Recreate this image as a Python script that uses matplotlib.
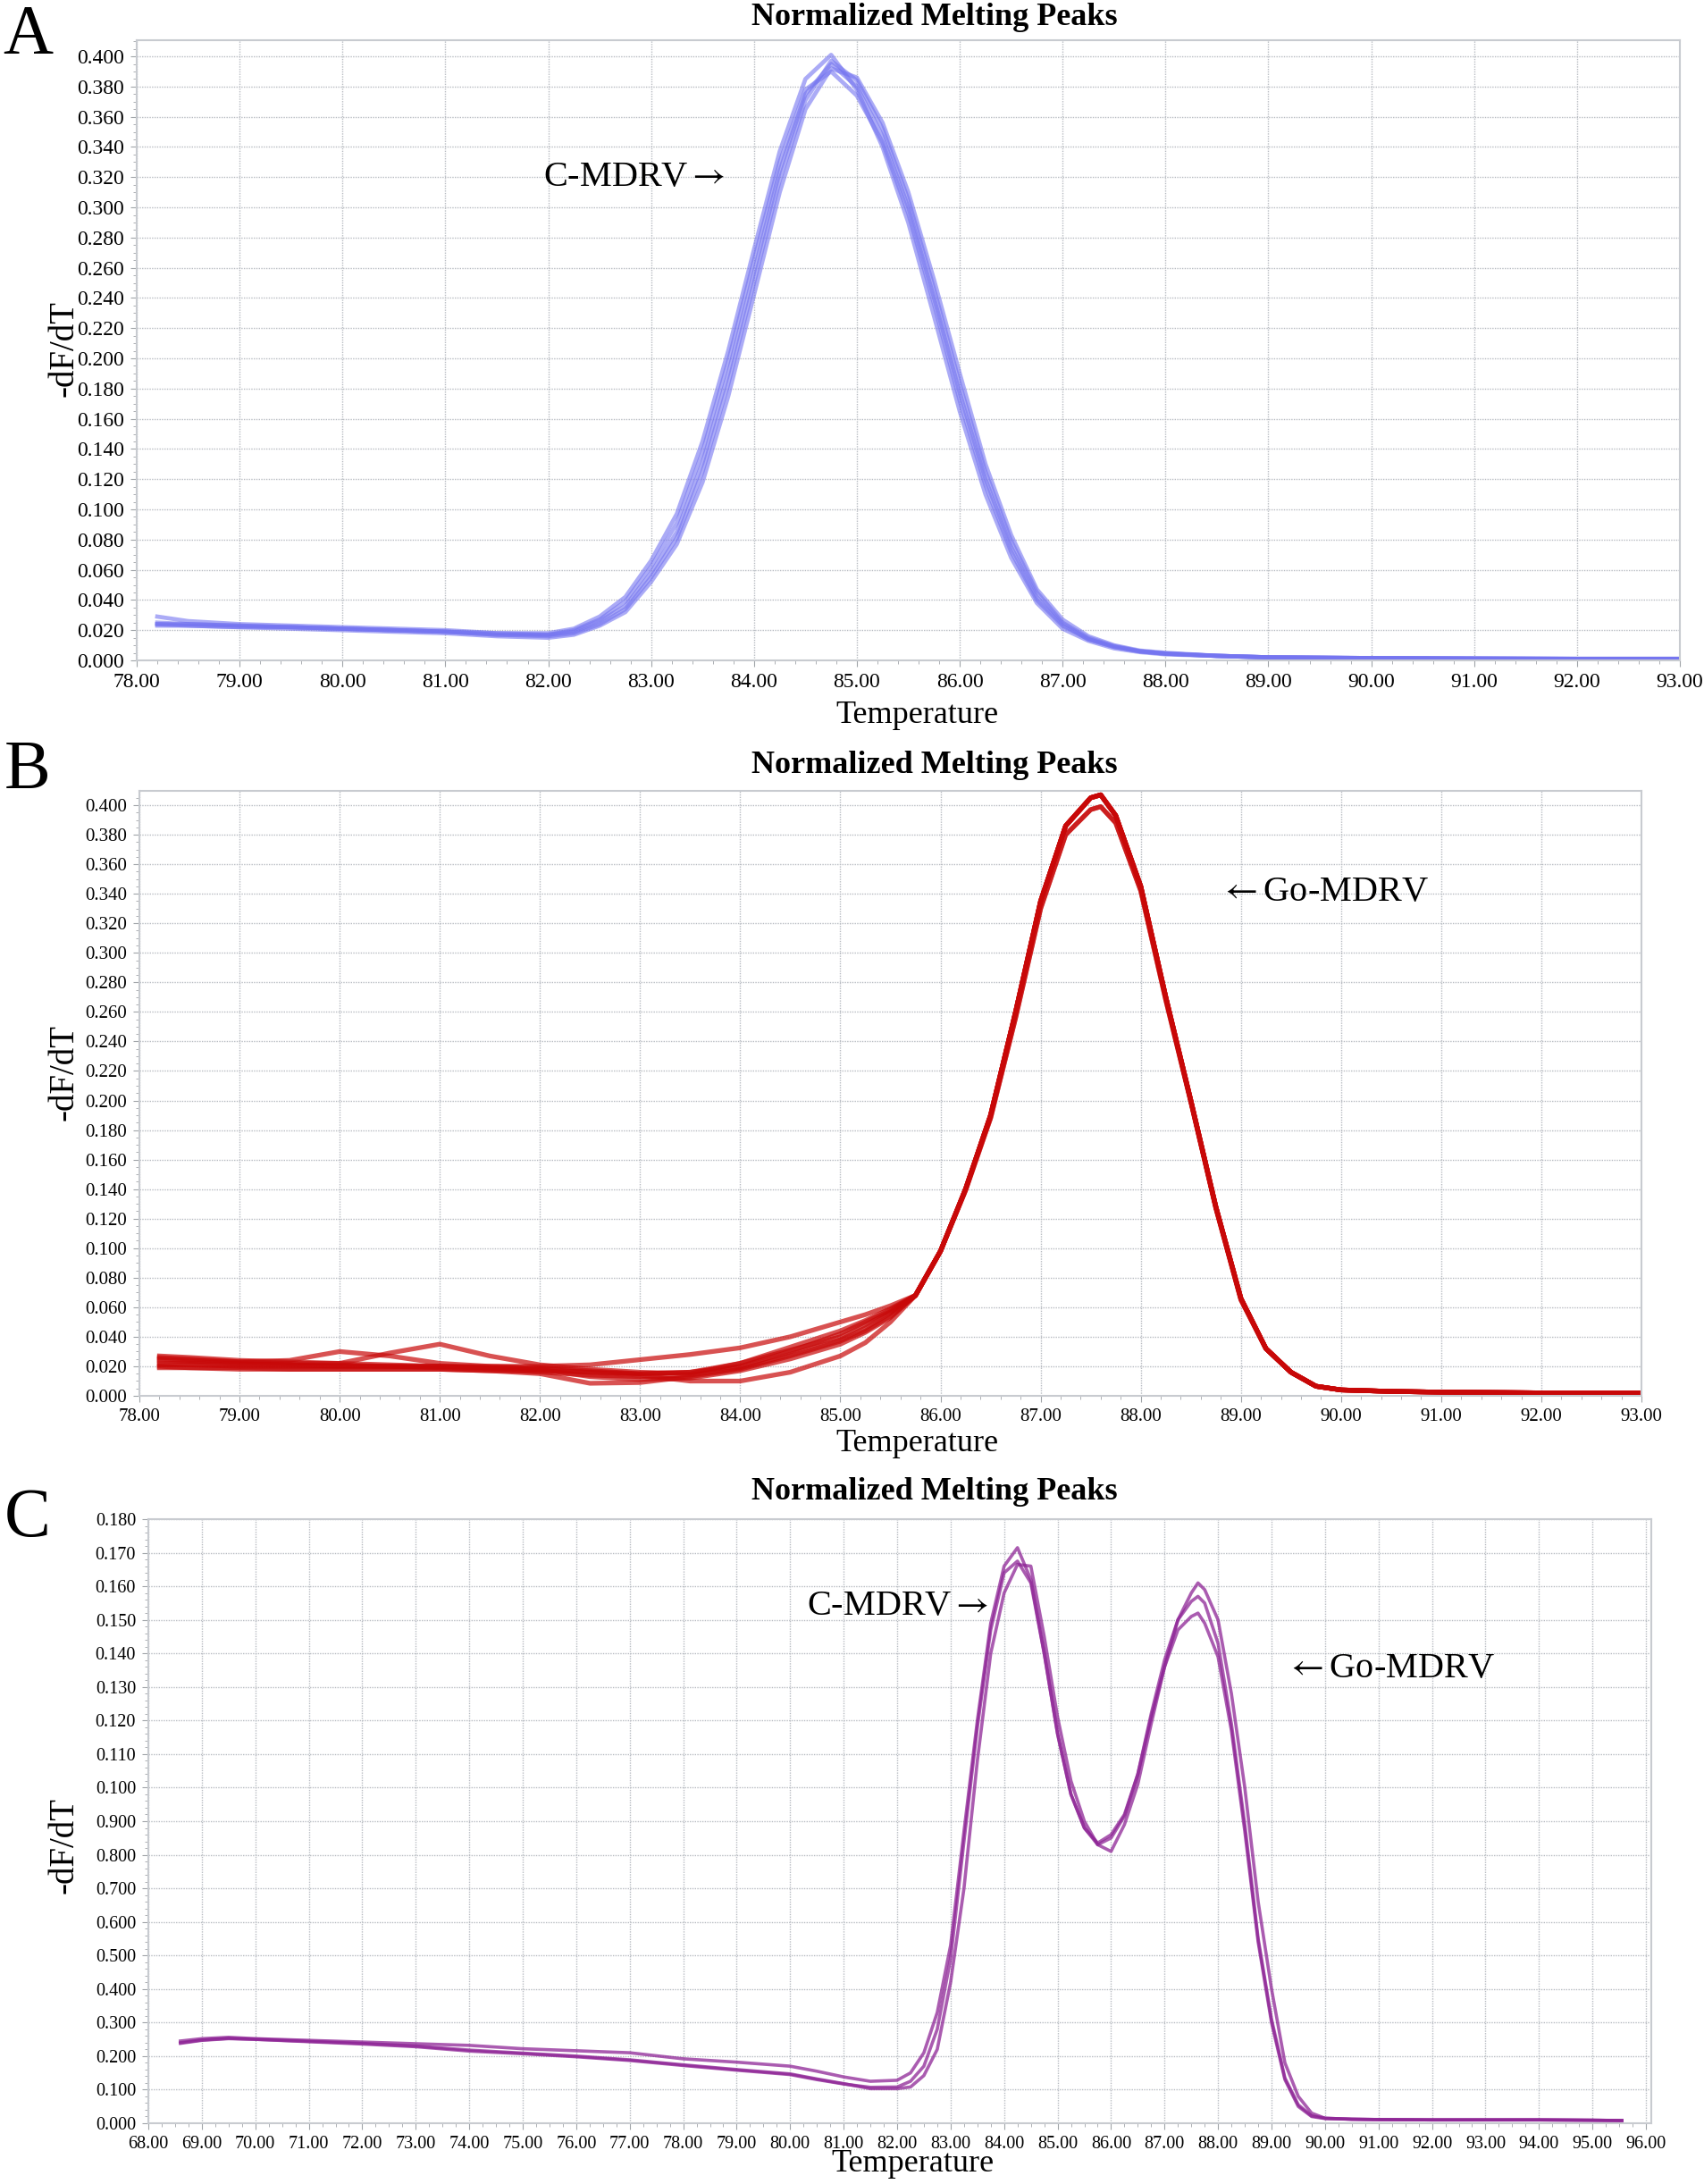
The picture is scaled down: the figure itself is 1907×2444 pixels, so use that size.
import matplotlib
matplotlib.use("Agg")
import matplotlib.pyplot as plt
from matplotlib.ticker import MultipleLocator, FixedLocator, FixedFormatter
import numpy as np

plt.rcParams['font.family'] = ['Liberation Serif', 'DejaVu Serif']
plt.rcParams['mathtext.fontset'] = 'stix'

# ---------------- panel A : C-MDRV ----------------
a_temp = [78.2, 78.5, 79.0, 79.5, 80.0, 80.5, 81.0, 81.5, 82.0, 82.25, 82.5, 82.75,
          83.0, 83.25, 83.5, 83.75, 84.0, 84.25, 84.5, 84.75, 85.0, 85.25, 85.5, 85.75,
          86.0, 86.25, 86.5, 86.75, 87.0, 87.25, 87.5, 87.75, 88.0, 88.5, 89.0, 90.0,
          91.0, 92.0, 93.0]
a_run1 = [0.025, 0.024, 0.023, 0.022, 0.021, 0.020, 0.019, 0.017, 0.017, 0.019, 0.026, 0.036,
          0.058, 0.085, 0.131, 0.190, 0.257, 0.324, 0.375, 0.395, 0.380, 0.347, 0.300, 0.240,
          0.177, 0.120, 0.075, 0.042, 0.024, 0.014, 0.009, 0.006, 0.0045, 0.003, 0.002, 0.0015,
          0.0012, 0.001, 0.001]
a_run2 = [0.024, 0.024, 0.023, 0.022, 0.021, 0.020, 0.019, 0.018, 0.018, 0.021, 0.029, 0.042,
          0.066, 0.097, 0.145, 0.205, 0.272, 0.337, 0.385, 0.401, 0.378, 0.340, 0.290, 0.228,
          0.165, 0.110, 0.068, 0.038, 0.021, 0.013, 0.008, 0.0055, 0.004, 0.003, 0.002, 0.0015,
          0.0012, 0.001, 0.001]
a_run3 = [0.023, 0.023, 0.022, 0.021, 0.020, 0.019, 0.018, 0.016, 0.015, 0.017, 0.023, 0.032,
          0.052, 0.077, 0.118, 0.175, 0.242, 0.310, 0.365, 0.392, 0.386, 0.356, 0.310, 0.252,
          0.190, 0.130, 0.083, 0.047, 0.027, 0.016, 0.010, 0.0065, 0.005, 0.003, 0.002, 0.0015,
          0.0012, 0.001, 0.001]
a_run4 = [0.029, 0.026, 0.024, 0.023, 0.022, 0.021, 0.020, 0.018, 0.017, 0.020, 0.027, 0.039,
          0.062, 0.091, 0.138, 0.198, 0.265, 0.330, 0.378, 0.390, 0.374, 0.343, 0.296, 0.236,
          0.172, 0.116, 0.072, 0.040, 0.023, 0.014, 0.009, 0.006, 0.0045, 0.003, 0.002, 0.0015,
          0.0012, 0.001, 0.001]
a_run5 = [0.024, 0.023, 0.022, 0.022, 0.021, 0.020, 0.019, 0.017, 0.016, 0.018, 0.024, 0.034,
          0.055, 0.081, 0.125, 0.183, 0.250, 0.318, 0.371, 0.397, 0.384, 0.352, 0.305, 0.246,
          0.183, 0.125, 0.079, 0.045, 0.025, 0.015, 0.0095, 0.006, 0.0045, 0.003, 0.002, 0.0015,
          0.0012, 0.001, 0.001]
a_runs = [a_run1, a_run2, a_run3, a_run4, a_run5]

# ---------------- panel B : Go-MDRV ----------------
b_temp_low = [78.2, 78.5, 79.0, 79.5, 80.0, 80.5, 81.0, 81.5, 82.0, 82.5, 83.0, 83.5,
              84.0, 84.5, 85.0, 85.25, 85.5]
b_low1 = [0.025, 0.024, 0.023, 0.024, 0.030, 0.027, 0.022, 0.020, 0.019, 0.017, 0.015, 0.016, 0.020, 0.030, 0.042, 0.050, 0.058]
b_low2 = [0.026, 0.025, 0.023, 0.022, 0.022, 0.029, 0.035, 0.027, 0.021, 0.018, 0.016, 0.015, 0.022, 0.031, 0.040, 0.048, 0.057]
b_low3 = [0.021, 0.021, 0.020, 0.020, 0.020, 0.020, 0.020, 0.020, 0.020, 0.021, 0.0245, 0.028, 0.0325, 0.040, 0.050, 0.055, 0.061]
b_low4 = [0.020, 0.019, 0.019, 0.018, 0.018, 0.018, 0.018, 0.017, 0.015, 0.0085, 0.009, 0.013, 0.018, 0.027, 0.037, 0.044, 0.054]
b_low5 = [0.019, 0.019, 0.018, 0.018, 0.018, 0.018, 0.018, 0.017, 0.017, 0.016, 0.014, 0.010, 0.010, 0.016, 0.027, 0.036, 0.050]
b_low6 = [0.024, 0.023, 0.022, 0.021, 0.020, 0.020, 0.019, 0.018, 0.016, 0.014, 0.013, 0.014, 0.019, 0.028, 0.038, 0.046, 0.056]
b_low7 = [0.027, 0.026, 0.024, 0.023, 0.022, 0.021, 0.020, 0.019, 0.018, 0.016, 0.015, 0.016, 0.022, 0.033, 0.044, 0.051, 0.059]
b_low8 = [0.022, 0.022, 0.021, 0.021, 0.021, 0.020, 0.020, 0.019, 0.018, 0.013, 0.011, 0.012, 0.017, 0.025, 0.035, 0.043, 0.053]
b_lows = [b_low1, b_low2, b_low3, b_low4, b_low5, b_low6, b_low7, b_low8]

b_temp_peak = [85.75, 86.0, 86.25, 86.5, 86.75, 87.0, 87.25, 87.5, 87.6, 87.75, 88.0, 88.25,
               88.5, 88.75, 89.0, 89.25, 89.5, 89.75, 90.0, 90.5, 91.0, 92.0, 93.0]
b_peak_hi = [0.068, 0.098, 0.140, 0.190, 0.260, 0.335, 0.386, 0.405, 0.407, 0.393, 0.345, 0.270,
             0.200, 0.128, 0.066, 0.032, 0.016, 0.0065, 0.004, 0.003, 0.0025, 0.002, 0.0018]
b_peak_lo = [0.068, 0.098, 0.139, 0.188, 0.256, 0.330, 0.380, 0.397, 0.399, 0.388, 0.342, 0.268,
             0.199, 0.127, 0.065, 0.032, 0.016, 0.0065, 0.004, 0.003, 0.0025, 0.002, 0.0018]
b_peak_pick = [0, 0, 0, 1, 0, 0, 1, 0]

# ---------------- panel C : mixed sample ----------------
c_temp = [68.6, 69.0, 69.5, 70.0, 71.0, 72.0, 73.0, 74.0, 75.0, 76.0, 77.0, 78.0, 79.0, 80.0,
          80.5, 81.0, 81.5, 82.0, 82.25, 82.5, 82.75, 83.0, 83.25, 83.5, 83.75, 84.0, 84.25,
          84.5, 84.75, 85.0, 85.25, 85.5, 85.75, 86.0, 86.25, 86.5, 86.75, 87.0, 87.25, 87.5,
          87.625, 87.75, 88.0, 88.25, 88.5, 88.75, 89.0, 89.25, 89.5, 89.75, 90.0, 90.5, 91.0,
          92.0, 93.0, 94.0, 95.0, 95.55]
c_run1 = [0.0245, 0.0252, 0.0256, 0.0252, 0.0247, 0.0242, 0.0237, 0.0232, 0.0222, 0.0216, 0.0210, 0.0192, 0.0182, 0.0170,
          0.0155, 0.0138, 0.0125, 0.0128, 0.0150, 0.0210, 0.0330, 0.0530, 0.0870, 0.1200, 0.1490, 0.1660, 0.1715,
          0.1620, 0.1400, 0.1160, 0.0980, 0.0880, 0.0835, 0.0860, 0.0920, 0.1040, 0.1210, 0.1360, 0.1470, 0.1510,
          0.1520, 0.1490, 0.1390, 0.1170, 0.0870, 0.0540, 0.0300, 0.0130, 0.0050, 0.0020, 0.0014, 0.0012, 0.0011,
          0.0010, 0.0010, 0.0010, 0.0009, 0.0008]
c_run2 = [0.0238, 0.0247, 0.0252, 0.0250, 0.0243, 0.0236, 0.0228, 0.0215, 0.0207, 0.0198, 0.0187, 0.0172, 0.0158, 0.0145,
          0.0130, 0.0117, 0.0107, 0.0108, 0.0125, 0.0170, 0.0280, 0.0490, 0.0840, 0.1180, 0.1470, 0.1640, 0.1675,
          0.1610, 0.1400, 0.1160, 0.0980, 0.0880, 0.0830, 0.0850, 0.0915, 0.1040, 0.1220, 0.1380, 0.1500, 0.1555,
          0.1570, 0.1550, 0.1430, 0.1190, 0.0890, 0.0550, 0.0310, 0.0135, 0.0055, 0.0022, 0.0015, 0.0012, 0.0011,
          0.0010, 0.0010, 0.0010, 0.0009, 0.0008]
c_run3 = [0.0240, 0.0248, 0.0253, 0.0250, 0.0244, 0.0238, 0.0230, 0.0218, 0.0209, 0.0200, 0.0189, 0.0174, 0.0160, 0.0147,
          0.0132, 0.0118, 0.0103, 0.0103, 0.0108, 0.0142, 0.0220, 0.0420, 0.0700, 0.1080, 0.1400, 0.1580, 0.1665,
          0.1660, 0.1450, 0.1210, 0.1020, 0.0900, 0.0830, 0.0810, 0.0890, 0.1010, 0.1190, 0.1360, 0.1500, 0.1580,
          0.1610, 0.1590, 0.1500, 0.1280, 0.1000, 0.0660, 0.0400, 0.0180, 0.0080, 0.0030, 0.0015, 0.0012, 0.0011,
          0.0010, 0.0010, 0.0010, 0.0009, 0.0008]
c_runs = [c_run1, c_run2, c_run3]

c_ytick_pos = [0.00, 0.01, 0.02, 0.03, 0.04, 0.05, 0.06, 0.07, 0.08, 0.09,
               0.10, 0.11, 0.12, 0.13, 0.14, 0.15, 0.16, 0.17, 0.18]
c_ytick_lab = ['0.000', '0.100', '0.200', '0.300', '0.400', '0.500', '0.600', '0.700', '0.800', '0.900',
               '0.100', '0.110', '0.120', '0.130', '0.140', '0.150', '0.160', '0.170', '0.180']

W, H = 1908, 2444
fig = plt.figure(figsize=(W / 100, H / 100), dpi=100)


def box(l, r, t, b):
    return [l / W, 1 - b / H, (r - l) / W, (b - t) / H]


def style(ax, xmaj, xmin, ymin, fs):
    ax.xaxis.set_major_locator(MultipleLocator(xmaj))
    ax.xaxis.set_minor_locator(MultipleLocator(xmin))
    ax.yaxis.set_minor_locator(MultipleLocator(ymin))
    ax.xaxis.set_major_formatter(plt.FormatStrFormatter('%.2f'))
    ax.grid(True, which='major', color='#b8bcc2', linestyle=(0, (1, 1)), linewidth=1.0)
    ax.set_axisbelow(True)
    for s in ax.spines.values():
        s.set_color('#c8cbd0')
        s.set_linewidth(1.5)
    ax.tick_params(which='major', length=5, color='#a0a4a8', labelsize=fs, pad=5)
    ax.tick_params(which='minor', length=3, color='#a0a4a8')


RA = r'$\rightarrow$'
LA = r'$\leftarrow$'

# panel A
ax1 = fig.add_axes(box(153, 1880, 45, 739))
for run in a_runs:
    ax1.plot(a_temp, run, color='#7474f0', lw=3.4, alpha=0.6, solid_joinstyle='round')
ax1.set_xlim(78, 93)
ax1.set_ylim(0, 0.4107)
ax1.yaxis.set_major_locator(MultipleLocator(0.02))
ax1.yaxis.set_major_formatter(plt.FormatStrFormatter('%.3f'))
style(ax1, 1, 0.2, 0.005, 17)
ax1.text(83.72, 0.32, 'C-MDRV' + RA, fontsize=29, ha='right', va='center')

# panel B
ax2 = fig.add_axes(box(156, 1837, 885, 1562))
for low, pick in zip(b_lows, b_peak_pick):
    peak = b_peak_hi if pick == 0 else b_peak_lo
    ax2.plot(b_temp_low + b_temp_peak, low + peak, color='#c80808', lw=3.8, alpha=0.7,
             solid_joinstyle='round')
ax2.set_xlim(78, 93)
ax2.set_ylim(0, 0.4097)
ax2.yaxis.set_major_locator(MultipleLocator(0.02))
ax2.yaxis.set_major_formatter(plt.FormatStrFormatter('%.3f'))
style(ax2, 1, 0.2, 0.005, 15)
ax2.text(88.79, 0.341, LA + 'Go-MDRV', fontsize=29, ha='left', va='center')

# panel C
ax3 = fig.add_axes(box(166, 1848, 1700, 2376))
for run in c_runs:
    ax3.plot(c_temp, run, color='#8e2596', lw=2.6, alpha=0.75, solid_joinstyle='round')
ax3.set_xlim(68, 96.1)
ax3.set_ylim(0, 0.18)
ax3.yaxis.set_major_locator(FixedLocator(c_ytick_pos))
ax3.yaxis.set_major_formatter(FixedFormatter(c_ytick_lab))
style(ax3, 1, 0.25, 0.002, 14.5)
ax3.text(83.71, 0.154, 'C-MDRV' + RA, fontsize=29, ha='right', va='center')
ax3.text(89.27, 0.1355, LA + 'Go-MDRV', fontsize=29, ha='left', va='center')

# titles, axis labels and panel letters in figure pixels
for ty in (19, 856, 1670):
    fig.text(1046 / W, 1 - ty / H, 'Normalized Melting Peaks', fontsize=26,
             fontweight='bold', ha='center', va='center')
for xx, ty in ((1026, 800), (1026, 1615), (1021, 2421)):
    fig.text(xx / W, 1 - ty / H, 'Temperature', fontsize=26, ha='center', va='center')
for ty in (390, 1200, 2065):
    fig.text(72 / W, 1 - ty / H, '-dF/dT', fontsize=28, rotation=90, ha='center', va='center')
for lab, ty in (('A', 4), ('B', 828), ('C', 1664)):
    fig.text(31 / W, 1 - ty / H, lab, fontsize=56, ha='center', va='top')

fig.savefig('out.png', dpi=100, facecolor='white')
